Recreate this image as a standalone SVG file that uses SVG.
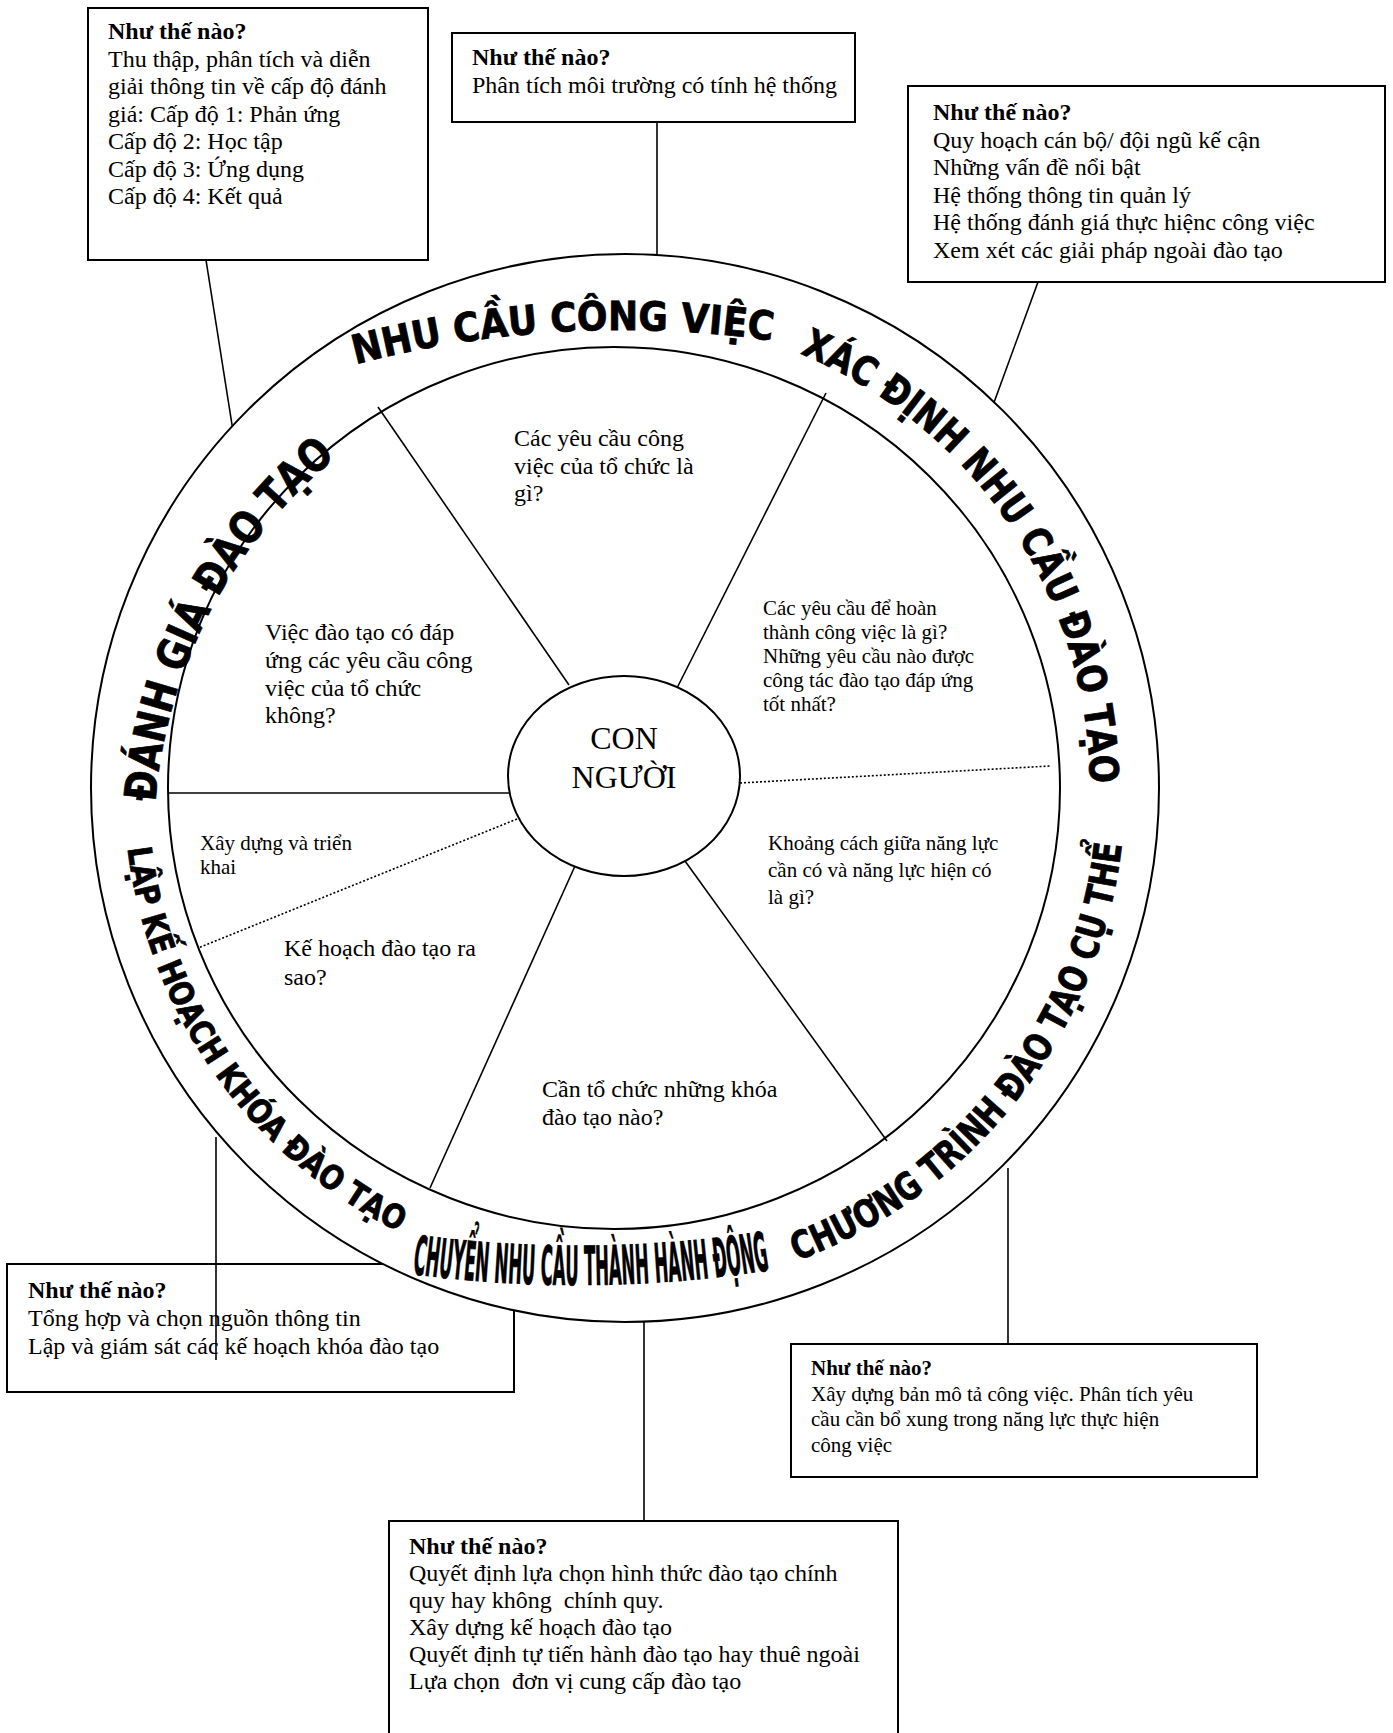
<svg xmlns="http://www.w3.org/2000/svg" width="1393" height="1733" viewBox="0 0 1393 1733">
<style>
.box{fill:#fff;stroke:#000;stroke-width:2}
.t{font-family:"Liberation Serif","Times New Roman",serif;font-size:24px;fill:#000}
.h{font-weight:bold}
.s{font-size:21px}
.ln{stroke:#000;stroke-width:1.6;fill:none}
.dot{stroke:#000;stroke-width:1.6;stroke-dasharray:2 2;fill:none}
.ring{fill:#fff;stroke:#000;stroke-width:2}
.band{font-family:"DejaVu Sans","Liberation Sans",sans-serif;font-weight:bold;fill:#000;stroke:#000;stroke-width:0.8}
.center{font-family:"Liberation Serif","Times New Roman",serif;font-size:32px;fill:#000;text-anchor:middle}
</style>
<defs>
<path id="pTop" d="M 355.5 364.3 A 1050 1050 0 0 1 775.4 341.2"/>
<path id="pRight" d="M 799.9 353.8 A 470 470 0 0 1 1090 783.1"/>
<path id="pLeftUp" d="M 155.5 802.2 A 495 495 0 0 1 337.5 456.3"/>
<path id="pLeftLow" d="M 127.7 848.4 A 496 496 0 0 0 398.7 1231.9"/>
<path id="pBottom" d="M 412 1274 A 1253 1253 0 0 0 771 1270"/>
<path id="pBR" d="M 796.8 1261 A 505 505 0 0 0 1121.9 844.3"/>
</defs>
<rect width="1393" height="1733" fill="#fff"/>

<g id="box-evaluate">
<rect class="box" x="88" y="8" width="340" height="252"/>
<text class="t h" x="108" y="39">Như thế nào?</text>
<text class="t" x="108" y="66.5">Thu thập, phân tích và diễn</text>
<text class="t" x="108" y="94">giải thông tin về cấp độ đánh</text>
<text class="t" x="108" y="121.5">giá: Cấp độ 1: Phản ứng</text>
<text class="t" x="108" y="149">Cấp độ 2: Học tập</text>
<text class="t" x="108" y="176.5">Cấp độ 3: Ứng dụng</text>
<text class="t" x="108" y="204">Cấp độ 4: Kết quả</text>
</g>

<g id="box-job-needs">
<rect class="box" x="452" y="33" width="403" height="89"/>
<text class="t h" x="472" y="65">Như thế nào?</text>
<text class="t" x="472" y="92.5">Phân tích môi trường có tính hệ thống</text>
</g>

<g id="box-identify">
<rect class="box" x="908" y="86" width="477" height="196"/>
<text class="t h" x="933" y="120">Như thế nào?</text>
<text class="t" x="933" y="147.5">Quy hoạch cán bộ/ đội ngũ kế cận</text>
<text class="t" x="933" y="175">Những vấn đề nổi bật</text>
<text class="t" x="933" y="202.5">Hệ thống thông tin quản lý</text>
<text class="t" x="933" y="230">Hệ thống đánh giá thực hiệnc công việc</text>
<text class="t" x="933" y="257.5">Xem xét các giải pháp ngoài đào tạo</text>
</g>

<g id="box-plan">
<rect class="box" x="7" y="1264" width="507" height="128"/>
<text class="t h" x="28" y="1298">Như thế nào?</text>
<text class="t" x="28" y="1326">Tổng hợp và chọn nguồn thông tin</text>
<text class="t" x="28" y="1353.5">Lập và giám sát các kế hoạch khóa đào tạo</text>
</g>

<g id="box-program">
<rect class="box" x="791" y="1344" width="466" height="133"/>
<text class="t s h" x="811" y="1375">Như thế nào?</text>
<text class="t s" x="811" y="1400.5">Xây dựng bản mô tả công việc. Phân tích yêu</text>
<text class="t s" x="811" y="1426">cầu cần bổ xung trong năng lực thực hiện</text>
<text class="t s" x="811" y="1451.5">công việc</text>
</g>

<g id="box-action">
<rect class="box" x="389" y="1521" width="509" height="230"/>
<text class="t h" x="409" y="1554">Như thế nào?</text>
<text class="t" x="409" y="1581">Quyết định lựa chọn hình thức đào tạo chính</text>
<text class="t" x="409" y="1608" xml:space="preserve">quy hay không  chính quy.</text>
<text class="t" x="409" y="1635">Xây dựng kế hoạch đào tạo</text>
<text class="t" x="409" y="1662">Quyết định tự tiến hành đào tạo hay thuê ngoài</text>
<text class="t" x="409" y="1689" xml:space="preserve">Lựa chọn  đơn vị cung cấp đào tạo</text>
</g>

<g id="connectors">
<line class="ln" x1="206" y1="260" x2="233" y2="431"/>
<line class="ln" x1="657" y1="122" x2="657" y2="256"/>
<line class="ln" x1="1038" y1="282" x2="992" y2="408"/>
<line class="ln" x1="216" y1="1137" x2="216" y2="1360"/>
<line class="ln" x1="1008" y1="1168" x2="1008" y2="1344"/>
<line class="ln" x1="644" y1="1320" x2="644" y2="1521"/>
</g>

<g id="wheel">
<circle class="ring" cx="625" cy="788" r="534"/>
<ellipse class="ring" cx="614" cy="788" rx="446" ry="441"/>
<g id="spokes">
<line class="ln" x1="569" y1="685" x2="378" y2="407"/>
<line class="ln" x1="677" y1="688" x2="826" y2="393"/>
<line class="ln" x1="168" y1="793" x2="509" y2="793"/>
<line class="dot" x1="740" y1="783" x2="1050" y2="766"/>
<line class="dot" x1="517" y1="819" x2="198" y2="948"/>
<line class="ln" x1="575" y1="866" x2="430" y2="1188"/>
<line class="ln" x1="685" y1="861" x2="887" y2="1141"/>
</g>
<g id="band-labels">
<text class="band" font-size="40"><textPath href="#pTop" textLength="420" lengthAdjust="spacingAndGlyphs">NHU CẦU CÔNG VIỆC</textPath></text>
<text class="band" font-size="40"><textPath href="#pRight" textLength="549" lengthAdjust="spacingAndGlyphs">XÁC ĐỊNH NHU CẦU ĐÀO TẠO</textPath></text>
<text class="band" font-size="44"><textPath href="#pLeftUp" textLength="400" lengthAdjust="spacingAndGlyphs">ĐÁNH GIÁ ĐÀO TẠO</textPath></text>
<text class="band" font-size="33"><textPath href="#pLeftLow" textLength="489" lengthAdjust="spacingAndGlyphs">LẬP KẾ HOẠCH KHÓA ĐÀO TẠO</textPath></text>
<text class="band" font-size="54"><textPath href="#pBottom" textLength="359" lengthAdjust="spacingAndGlyphs">CHUYỂN NHU CẦU THÀNH HÀNH ĐỘNG</textPath></text>
<text class="band" font-size="38"><textPath href="#pBR" textLength="556" lengthAdjust="spacingAndGlyphs">CHƯƠNG TRÌNH ĐÀO TẠO CỤ THỂ</textPath></text>
</g>
<g id="segment-job">
<text class="t" x="514" y="446">Các yêu cầu công</text>
<text class="t" x="514" y="473.5">việc của tổ chức là</text>
<text class="t" x="514" y="501">gì?</text>
</g>
<g id="segment-identify">
<text class="t s" x="763" y="615">Các yêu cầu để hoàn</text>
<text class="t s" x="763" y="639">thành công việc là gì?</text>
<text class="t s" x="763" y="663">Những yêu cầu nào được</text>
<text class="t s" x="763" y="687">công tác đào tạo đáp ứng</text>
<text class="t s" x="763" y="711">tốt nhất?</text>
</g>
<g id="segment-gap">
<text class="t s" x="768" y="850">Khoảng cách giữa năng lực</text>
<text class="t s" x="768" y="877">cần có và năng lực hiện có</text>
<text class="t s" x="768" y="904">là gì?</text>
</g>
<g id="segment-courses">
<text class="t" x="542" y="1097">Cần tổ chức những khóa</text>
<text class="t" x="542" y="1124.5">đào tạo nào?</text>
</g>
<g id="segment-plan">
<text class="t" x="284" y="956">Kế hoạch đào tạo ra</text>
<text class="t" x="284" y="985">sao?</text>
</g>
<g id="segment-build">
<text class="t s" x="200" y="850">Xây dựng và triển</text>
<text class="t s" x="200" y="874">khai</text>
</g>
<g id="segment-evaluate">
<text class="t" x="265" y="640">Việc đào tạo có đáp</text>
<text class="t" x="265" y="668">ứng các yêu cầu công</text>
<text class="t" x="265" y="695.5">việc của tổ chức</text>
<text class="t" x="265" y="723">không?</text>
</g>
<g id="hub">
<ellipse class="ring" cx="624" cy="776" rx="116" ry="100"/>
<text class="center" x="624" y="749">CON</text>
<text class="center" x="624" y="788">NGƯỜI</text>
</g>
</g>
</svg>
